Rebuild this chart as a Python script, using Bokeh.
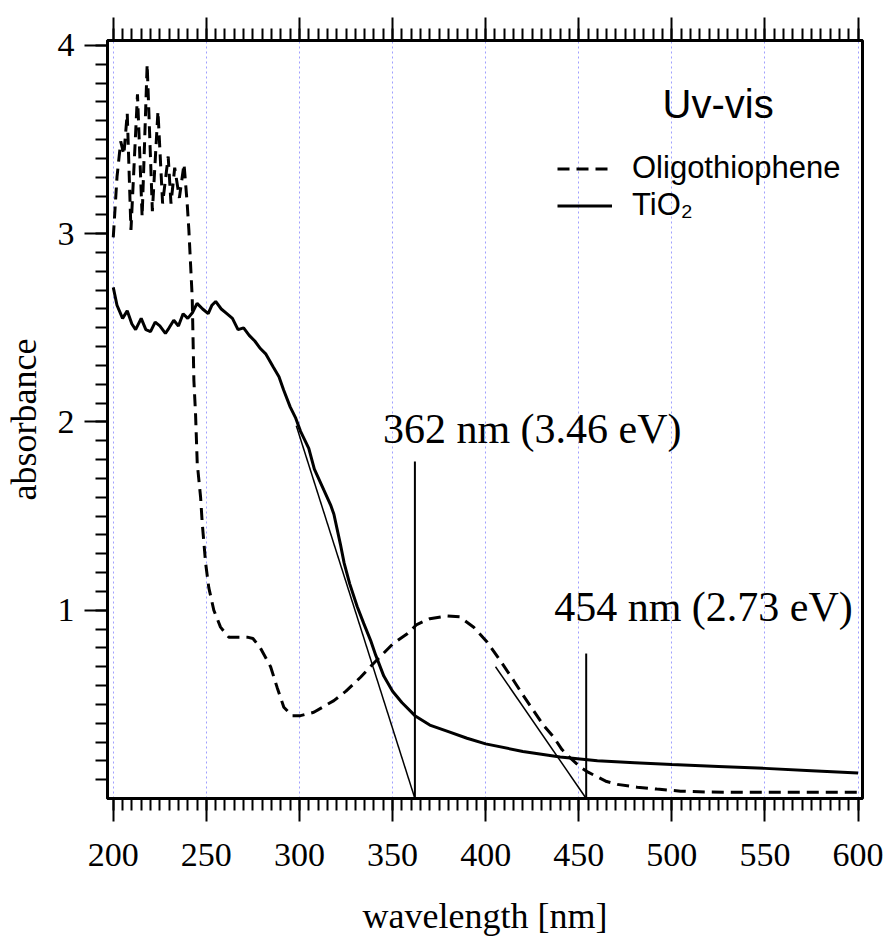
from bokeh.plotting import figure
from bokeh.models import (Range1d, LinearAxis, FixedTicker, SingleIntervalTicker,
                          Legend, LegendItem, Label)
from bokeh.core.properties import value
from bokeh.embed import file_html
from bokeh.resources import INLINE

# ---------------- data ----------------
wl_oligo = [200, 202, 204, 205.7, 207.5, 209.5, 213, 215.5, 218.2, 221, 224, 226.5,
            229.5, 231, 233, 235.5, 238, 239.7, 240.6, 241.5, 242.4, 243.3, 244.2,
            245.1, 246.9, 247.8, 249.6, 251.3, 254, 257.6, 262, 267, 272, 275, 279,
            284.5, 288, 291.6, 296, 300.6, 307.7, 318.5, 325, 332.8, 340, 345, 350,
            357.9, 363, 370, 379.4, 386, 393.6, 400.9, 408, 415, 420, 425.7, 431,
            436.5, 441, 446, 451, 455, 460, 465, 470.7, 481.4, 492, 504.7, 520, 540,
            560, 580, 600]
abs_oligo = [2.98, 3.30, 3.49, 3.42, 3.64, 3.02, 3.74, 3.09, 3.90, 3.12, 3.65, 3.16,
             3.41, 3.16, 3.35, 3.19, 3.37, 3.16, 3.02, 2.84, 2.66, 2.22, 2.04,
             1.78, 1.60, 1.46, 1.25, 1.12, 1.00, 0.91, 0.857, 0.857, 0.857, 0.85, 0.80,
             0.70, 0.59, 0.485, 0.44, 0.44, 0.458, 0.52, 0.57, 0.644, 0.72, 0.77, 0.82,
             0.875, 0.924, 0.955, 0.97, 0.965, 0.91, 0.83, 0.73, 0.627, 0.55, 0.467, 0.39,
             0.326, 0.26, 0.21, 0.166, 0.14, 0.115, 0.09, 0.075, 0.06, 0.05, 0.039, 0.034,
             0.033, 0.033, 0.033, 0.033]

wl_tio2 = [200, 202, 205, 207.5, 210, 212, 215, 217.5, 220, 222.5, 225, 228, 230, 232.5,
           235, 237.5, 240, 242.5, 245, 248, 251, 253, 255, 258, 261, 264, 267, 270,
           273, 276, 279, 282, 286, 289, 291.5, 295, 298, 300.6, 305, 308, 313, 316.7,
           318.5, 322, 324, 327, 331, 334.5, 338.2, 341, 345.3, 350, 355, 362, 370, 380,
           390, 400, 420, 440, 460, 480, 500, 525, 550, 575, 600]
abs_tio2 = [2.715, 2.62, 2.55, 2.59, 2.52, 2.49, 2.55, 2.49, 2.48, 2.53, 2.51, 2.47, 2.50,
            2.54, 2.51, 2.575, 2.55, 2.58, 2.63, 2.60, 2.575, 2.62, 2.64, 2.60, 2.575, 2.55,
            2.49, 2.50, 2.46, 2.43, 2.39, 2.36, 2.29, 2.24, 2.17, 2.08, 2.02, 1.95, 1.86,
            1.75, 1.64, 1.56, 1.51, 1.35, 1.25, 1.14, 1.02, 0.93, 0.84, 0.76, 0.65, 0.57,
            0.51, 0.44, 0.39, 0.355, 0.32, 0.29, 0.25, 0.22, 0.20, 0.19, 0.18, 0.17, 0.16,
            0.148, 0.135]

edge_nm = [362, 454]
edge_labels = ["362 nm (3.46 eV)", "454 nm (2.73 eV)"]
edge_marker_top = [1.79, 0.77]
edge_marker_bottom = [0, 0]
edge_label_y = [1.96, 1.015]
tangent_start_nm = [298.3, 405.3]
tangent_start_abs = [1.98, 0.70]

x_major_step = 50
y_major_ticks = [1, 2, 3, 4]
y_minor_ticks = [i / 10 for i in range(1, 41)]

title_text = "Uv-vis"
title_pos = (495, 3.69)

# ---------------- figure ----------------
SERIF = "Liberation Serif"
SANS = "Liberation Sans"

p = figure(width=891, height=941, output_backend="svg", toolbar_location=None,
           x_range=Range1d(196.9, 602.4), y_range=Range1d(0, 4.026),
           min_border_left=107, min_border_right=29, min_border_top=40,
           min_border_bottom=143)

p.outline_line_color = "black"
p.outline_line_width = 3
p.background_fill_color = "white"
p.border_fill_color = "white"

xt = SingleIntervalTicker(interval=x_major_step, num_minor_ticks=10)
yt = FixedTicker(ticks=y_major_ticks, minor_ticks=y_minor_ticks)

xa = p.xaxis[0]
xa.ticker = xt
ya = p.yaxis[0]
ya.ticker = yt

top = LinearAxis(ticker=SingleIntervalTicker(interval=x_major_step, num_minor_ticks=10),
                 major_label_text_font_size="1px", major_label_text_color=None,
                 major_label_standoff=0)
p.add_layout(top, "above")

for ax in (xa, ya, top):
    ax.major_tick_out = 23
    ax.major_tick_in = 0
    ax.minor_tick_out = 12
    ax.minor_tick_in = 0
    ax.major_tick_line_width = 2
    ax.minor_tick_line_width = 2
    ax.major_tick_line_color = "black"
    ax.minor_tick_line_color = "black"
    ax.axis_line_width = 3
    ax.axis_line_color = "black"

for ax in (xa, ya):
    ax.major_label_text_font = SERIF
    ax.major_label_text_font_size = "34px"
    ax.major_label_text_color = "black"
    ax.axis_label_text_font = SERIF
    ax.axis_label_text_font_size = "36px"
    ax.axis_label_text_font_style = "normal"
    ax.axis_label_text_color = "black"

xa.axis_label = "wavelength [nm]"
xa.major_label_standoff = 22
xa.axis_label_standoff = 27
ya.axis_label = "absorbance"
ya.major_label_standoff = 10
ya.axis_label_standoff = 11

p.xgrid.ticker = SingleIntervalTicker(interval=x_major_step)
p.xgrid.grid_line_color = "#9f9fff"
p.xgrid.grid_line_dash = "2 3"
p.xgrid.grid_line_width = 1
p.ygrid.grid_line_color = None

# curves
r_olig = p.line(wl_oligo, abs_oligo, line_color="black", line_width=3,
                line_dash="12 7")
r_tio2 = p.line(wl_tio2, abs_tio2, line_color="black", line_width=3)

# tangents and band-edge markers
p.segment(x0=tangent_start_nm, y0=tangent_start_abs, x1=edge_nm, y1=edge_marker_bottom,
          line_color="black", line_width=1.5)
p.segment(x0=edge_nm, y0=edge_marker_bottom, x1=edge_nm, y1=edge_marker_top,
          line_color="black", line_width=2)
p.text(x=edge_nm, y=edge_label_y, text=edge_labels, x_offset=-32,
       text_font=value(SERIF), text_font_size="42px", text_color="black",
       text_align="left", text_baseline="alphabetic")

p.add_layout(Label(x=title_pos[0], y=title_pos[1], text=title_text, text_font=SANS,
                   text_font_size="40px", text_color="black",
                   text_baseline="alphabetic", text_align="left"))

legend = Legend(items=[LegendItem(label=value("Oligothiophene"), renderers=[r_olig]),
                       LegendItem(label=value("TiO₂"), renderers=[r_tio2])],
                location=(450, 575), border_line_alpha=0, background_fill_alpha=0,
                label_text_font=SANS, label_text_font_size="31px",
                label_text_color="black",
                glyph_width=55, glyph_height=35, label_height=35, spacing=1,
                padding=0, margin=0, label_standoff=20)
p.add_layout(legend)

open("out.html", "w").write(file_html(p, INLINE))
